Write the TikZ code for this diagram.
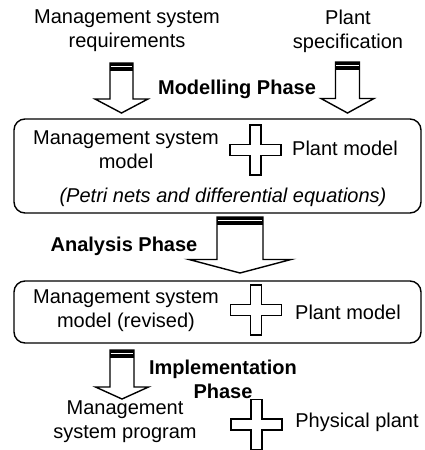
\documentclass[tikz,border=0pt]{standalone}
\usepackage{fontspec}
\setmainfont{Liberation Sans}

\begin{document}
\begin{tikzpicture}[x=1pt, y=-1pt,
    txt/.style={font=\fontsize{20}{24}\selectfont, align=center, inner sep=0pt},
    phase/.style={txt, font=\fontsize{20}{24}\selectfont\bfseries},
    stage/.style={draw, line width=1.4pt, rounded corners=11pt, inner sep=0pt},
    outline/.style={draw, fill=white, line width=1.4pt, line join=miter}]

    \useasboundingbox (0,0) rectangle (424,450);

    % Block arrow: centre x, top, half shaft, head start, half head, tip
    \def\phasearrow#1#2#3#4#5#6{
        \draw[outline] (#1-#3,#2) -- (#1+#3,#2) -- (#1+#3,#4) -- (#1+#5,#4)
            -- (#1,#6) -- (#1-#5,#4) -- (#1-#3,#4) -- cycle;
        \fill (#1-#3,#2) rectangle (#1+#3,#2+8);
        \draw[white, line width=1.3pt] (#1-#3+0.7,#2+3.8) -- (#1+#3-0.7,#2+3.8);
    }

    % Plus sign: centre x, centre y
    \def\plussign#1#2{
        \draw[outline] (#1-5.5,#2-25) -- (#1+5.5,#2-25) -- (#1+5.5,#2-5.5)
            -- (#1+25.5,#2-5.5) -- (#1+25.5,#2+5.5) -- (#1+5.5,#2+5.5)
            -- (#1+5.5,#2+25) -- (#1-5.5,#2+25) -- (#1-5.5,#2+5.5)
            -- (#1-25.5,#2+5.5) -- (#1-25.5,#2-5.5) -- (#1-5.5,#2-5.5) -- cycle;
    }

    % Stage boxes
    \node[stage, minimum width=407pt, minimum height=94pt] (model) at (217.5,166) {};
    \node[stage, minimum width=407pt, minimum height=62pt] (revised) at (217.5,312) {};

    % Inputs
    \node[txt] (req)  at (127,31) {Management system\\requirements};
    \node[txt] (spec) at (348,31) {Plant\\specification};

    % Modelling phase
    \phasearrow{121.5}{63}{11.5}{99}{26.5}{113}
    \phasearrow{347.5}{62}{12}{98.5}{26.5}{113}
    \node[phase] (modelling) at (237,89) {Modelling Phase};

    % First stage
    \node[txt] (msmodel) at (126,150) {Management system\\model};
    \plussign{255.5}{150}
    \node[txt] (plant1) at (345,148) {Plant model};
    \node[txt, font=\fontsize{20}{24}\selectfont\itshape] (petri) at (223,197)
        {(Petri nets and differential equations)};

    % Analysis phase
    \phasearrow{240}{217}{23}{259.5}{51}{273}
    \node[phase] (analysis) at (124,246) {Analysis Phase};

    % Second stage
    \node[txt] (msrevised) at (126,311) {Management system\\model (revised)};
    \plussign{256}{310}
    \node[txt] (plant2) at (348,312) {Plant model};

    % Implementation phase
    \phasearrow{122}{350}{12}{387}{26.5}{399}
    \node[phase] (implementation) at (223,379) {Implementation\\Phase};

    % Result
    \node[txt] (program) at (125,421.5) {Management\\system program};
    \plussign{256.5}{424.5}
    \node[txt] (physical) at (357,422) {Physical plant};

\end{tikzpicture}
\end{document}
